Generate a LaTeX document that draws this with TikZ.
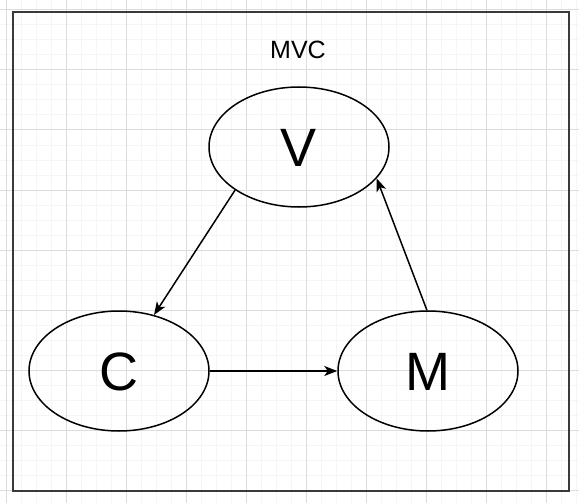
\documentclass[tikz,border=0pt]{standalone}
\usepackage{fontspec}
\setmainfont{Liberation Sans}
\usetikzlibrary{shapes.geometric,arrows.meta}
\definecolor{gridminor}{HTML}{F5F5F5}
\definecolor{gridmajor}{HTML}{DCDCDC}
\definecolor{framecol}{HTML}{3A3A3A}
\begin{document}
\begin{tikzpicture}[x=1pt,y=-1pt,
  state/.style={ellipse,draw,line width=1.5pt,minimum width=180pt,minimum height=120pt,
    inner sep=0pt,font=\fontsize{54}{54}\selectfont,text height=38.7pt,text depth=0pt},
  link/.style={line width=1.5pt,-{Stealth[length=13pt,width=10pt,inset=3.5pt]}},
  minorline/.style={gridminor,line width=1pt},
  majorline/.style={gridmajor,line width=1pt}]
\useasboundingbox (0,0) rectangle (579,503);
\fill[white] (0,0) rectangle (579,503);
\foreach \i in {0,...,38} \draw[minorline] ({6.667+15*\i},0) -- ({6.667+15*\i},503);
\foreach \i in {0,...,33} \draw[minorline] (0,{10+15*\i}) -- (579,{10+15*\i});
\foreach \i in {0,...,9} \draw[majorline] ({6.667+60*\i},0) -- ({6.667+60*\i},503);
\foreach \i in {0,...,8} \draw[majorline] (0,{10+60*\i}) -- (579,{10+60*\i});
\node[draw=framecol,line width=2pt,minimum width=556pt,minimum height=479pt,inner sep=0pt] (frame) at (291,251.5) {};
\node[font=\fontsize{25}{25}\selectfont,inner sep=0pt,text height=17.9pt,text depth=0pt] (title) at (298,50) {MVC};
\node[state] (V) at (299,147) {V};
\node[state] (C) at (119,371) {C};
\node[state] (M) at (428,371) {M};
\draw[link] (V.214) -- (C.58);
\draw[link] (C.east) -- (M.west);
\draw[link] (M.91) -- (V.-22);
\end{tikzpicture}
\end{document}
